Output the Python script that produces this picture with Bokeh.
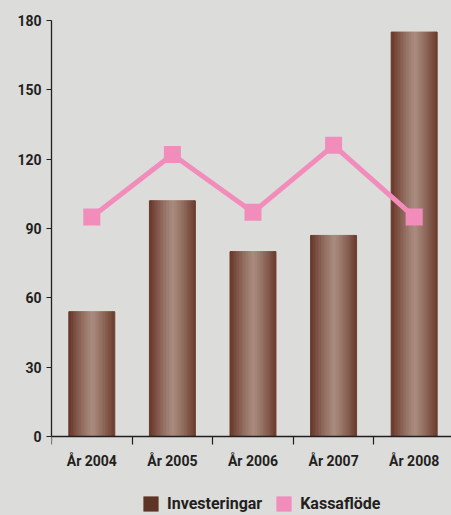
import numpy as np
from bokeh.plotting import figure
from bokeh.models import (Range1d, FixedTicker, ColumnDataSource, Legend, LegendItem, LinearAxis)
from bokeh.embed import file_html
from bokeh.resources import INLINE

# ---- data ----
years = ["År 2004", "År 2005", "År 2006", "År 2007", "År 2008"]
investeringar = [54, 102, 80, 87, 175]
kassaflode = [95, 122, 97, 126, 95]
y_ticks = [0, 30, 60, 90, 120, 150, 180]

FONT = "Roboto"
TXT = "#231f20"
BG = "#dcdcdb"
PINK = "#f28cbb"
DARK = (0x68, 0x38, 0x2a)
LIGHT = (0xa9, 0x8b, 0x7e)

p = figure(width=451, height=515, output_backend="svg", toolbar_location=None,
           x_range=Range1d(0, 4.963), y_range=Range1d(-34.18, 180),
           x_axis_location=None,
           min_border_left=51, min_border_right=0, min_border_top=20,
           min_border_bottom=0)
p.background_fill_color = BG
p.border_fill_color = BG
p.outline_line_color = None
p.grid.visible = False

# ---- bars with horizontal gradient built from thin strips ----
N = 30
bw = 0.57
xs, tops, cols = [], [], []
centers = np.arange(len(years)) + 0.5
for c, v in zip(centers, investeringar):
    for k in range(N):
        pos = (k + 0.5) / N
        t = min(1.0, abs(pos - 0.52) / 0.5)
        t = t ** 1.2
        rgb = [int(round(LIGHT[j] + (DARK[j] - LIGHT[j]) * t)) for j in range(3)]
        xs.append(c - bw / 2 + pos * bw)
        tops.append(v)
        cols.append("#%02x%02x%02x" % tuple(rgb))
src = ColumnDataSource(dict(x=xs, top=tops, color=cols))
bars = p.vbar(x="x", top="top", width=bw / N, bottom=0, source=src,
              fill_color="color", line_color="color", line_width=1)

# legend swatch renderer (kept outside the visible x range)
legend_bar = p.vbar(x=[-1], top=[0], width=0.1, fill_color="#5e3426", line_color=None)

# ---- line with square markers ----
p.line(x=centers, y=kassaflode, line_color=PINK, line_width=5)
marks = p.rect(x=centers, y=kassaflode, width=17, height=17,
               width_units="screen", height_units="screen",
               fill_color=PINK, line_color=None)

# ---- axes ----
xa = LinearAxis(fixed_location=0)
p.add_layout(xa, "below")
xa.ticker = FixedTicker(ticks=list(centers), minor_ticks=list(range(len(years) + 1)))
xa.major_label_overrides = {float(c): y for c, y in zip(centers, years)}
xa.major_tick_out = 0
xa.major_tick_in = 0
xa.minor_tick_out = 8
xa.minor_tick_in = 0
xa.minor_tick_line_color = TXT
xa.minor_tick_line_width = 1.2
xa.axis_line_color = TXT
xa.axis_line_width = 1.3
xa.major_label_standoff = 8
xa.major_label_text_font = FONT
xa.major_label_text_font_style = "bold"
xa.major_label_text_font_size = "14px"
xa.major_label_text_color = TXT

ya = p.yaxis[0]
ya.bounds = (0, 180)
ya.ticker = FixedTicker(ticks=y_ticks)
ya.minor_tick_line_color = None
ya.major_tick_out = 5
ya.major_tick_in = 0
ya.major_tick_line_color = TXT
ya.major_tick_line_width = 1.2
ya.axis_line_color = TXT
ya.axis_line_width = 1.3
ya.major_label_standoff = 5
ya.major_label_text_font = FONT
ya.major_label_text_font_style = "bold"
ya.major_label_text_font_size = "14px"
ya.major_label_text_color = TXT

# ---- legend ----
legend = Legend(items=[LegendItem(label="Investeringar", renderers=[legend_bar]),
                       LegendItem(label="Kassaflöde", renderers=[marks])],
                orientation="horizontal", location=(90, 2),
                glyph_width=19, glyph_height=19, label_standoff=7, spacing=12,
                padding=0, margin=0, border_line_color=None,
                background_fill_alpha=0,
                label_text_font=FONT, label_text_font_style="bold",
                label_text_font_size="16px", label_text_color=TXT,
                label_height=19)
p.add_layout(legend, "center")

html = file_html(p, INLINE)
html = html.replace("</head>",
                    "<style>html,body{margin:0;padding:0;background:%s;overflow:hidden}</style></head>" % BG, 1)
open("out.html", "w").write(html)
